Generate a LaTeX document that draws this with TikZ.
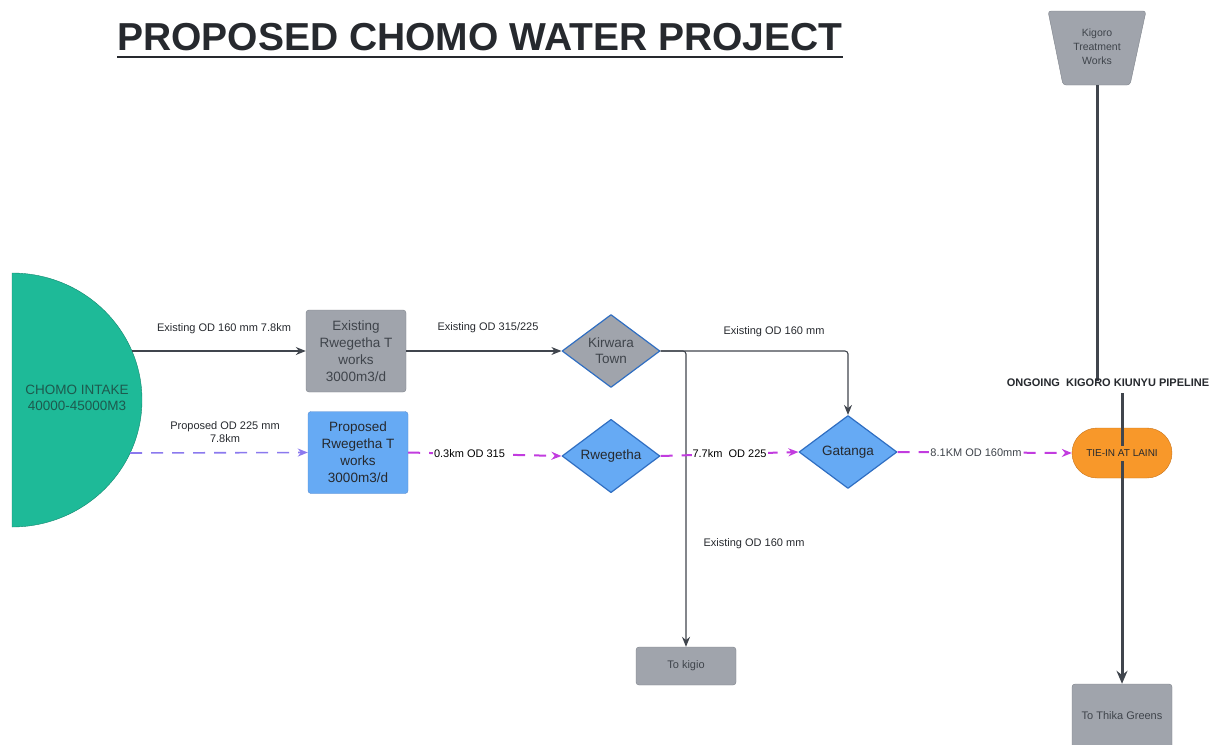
\documentclass[tikz,border=0pt]{standalone}
\usepackage{fontspec}
\setmainfont{Liberation Sans}
\usetikzlibrary{shapes.geometric,arrows.meta}
\definecolor{greyfill}{HTML}{A0A4AC}
\definecolor{greyline}{HTML}{7E838B}
\definecolor{greytxt}{HTML}{3F444B}
\definecolor{bluefill}{HTML}{66AAF4}
\definecolor{blueline}{HTML}{2F6EC2}
\definecolor{tealfill}{HTML}{1EBA98}
\definecolor{tealline}{HTML}{14876F}
\definecolor{tealtxt}{HTML}{1D5A4E}
\definecolor{orangefill}{HTML}{F8982A}
\definecolor{orangeline}{HTML}{C8731A}
\definecolor{pipecol}{HTML}{40454D}
\definecolor{newcol}{HTML}{C23CDF}
\definecolor{violet}{HTML}{8B79EE}
\definecolor{darktxt}{HTML}{26292E}
\begin{document}
\begin{tikzpicture}[line join=round, line cap=butt, >={Stealth[length=10pt,width=8pt]}, x=1pt, y=-1pt]
	\tikzset{every node/.style={font=\fontsize{11}{13}\selectfont, text=darktxt, align=center}}
	\tikzset{greybox/.style={draw=greyline, fill=greyfill, rounded corners=3pt, minimum width=100, minimum height=82, inner sep=0pt, text=greytxt, font=\fontsize{13.5}{17}\selectfont}}
	\tikzset{bluebox/.style={greybox, draw=blueline!80, fill=bluefill, text=darktxt}}
	\tikzset{decision/.style={diamond, draw=blueline, line width=1.2pt, fill=bluefill, minimum width=98, minimum height=73, inner sep=0pt, font=\fontsize{13.5}{16}\selectfont}}
	\tikzset{pipe/.style={draw=pipecol, line width=1.1pt}}
	\tikzset{newpipe/.style={draw=newcol, line width=2pt, dash pattern=on 12pt off 9pt}}
	\tikzset{mainline/.style={draw=pipecol, line width=3pt}}
	\useasboundingbox (0,0) rectangle (1214,744);
	% title
	\node[anchor=base, inner sep=0pt, font=\fontsize{39}{42}\bfseries] (title) at (480,50) {PROPOSED CHOMO WATER PROJECT};
	\draw[darktxt, line width=2.5pt] ([yshift=-7pt]title.base west)--([yshift=-7pt]title.base east);
	% intake
	\draw[draw=tealline, fill=tealfill] (12,273) arc[start angle=-90, end angle=90, x radius=130, y radius=127]--cycle;
	\node[text=tealtxt, font=\fontsize{13.5}{16}\selectfont] (intake) at (77,398) {CHOMO INTAKE\\40000-45000M3};
	\coordinate (outA) at (132,351);
	\coordinate (outB) at (130,453);
	% works and towns
	\node[greybox] (exist) at (356,351) {Existing\\Rwegetha T\\works\\3000m3/d};
	\node[bluebox] (prop) at (358,452.5) {Proposed\\Rwegetha T\\works\\3000m3/d};
	\node[decision, fill=greyfill, text=greytxt] (kirwara) at (611,351) {Kirwara\\Town};
	\node[decision] (rweg) at (611,456) {Rwegetha};
	\node[decision] (gatanga) at (848,452) {Gatanga};
	\node[greybox, minimum height=38] (kigio) at (686,666) {\fontsize{11}{13}\selectfont To kigio};
	\node[draw=orangeline, fill=orangefill, rounded corners=25pt, minimum width=100, minimum height=50, inner sep=0pt, font=\fontsize{10}{12}\selectfont] (tie) at (1122,453) {TIE-IN AT LAINI};
	\node[greybox, minimum height=64] (thika) at (1122,716) {\fontsize{11}{13}\selectfont To Thika Greens};
	\draw[draw=greyline, fill=greyfill, rounded corners=3pt] (1048,11)--(1146,11)--(1130,85)--(1063,85)--cycle;
	\node[text=greytxt, font=\fontsize{10.5}{14}\selectfont] (kigoro) at (1097,47) {Kigoro\\Treatment\\Works};
	\coordinate (kigorobase) at (1097,85);
	% existing lines
	\draw[pipe,->] (outA)--(exist.west);
	\draw[pipe,->] (exist.east)--(kirwara.west);
	\draw[pipe,->,rounded corners=3pt] (kirwara.east)-|(gatanga.north);
	\draw[pipe,->,rounded corners=3pt] (kirwara.east)-|(kigio.north);
	\node (lbla) at (224,329) {Existing OD 160 mm 7.8km};
	\node (lblb) at (488,328) {Existing OD 315/225};
	\node (lblc) at (774,332) {Existing OD 160 mm};
	\node (lbld) at (754,544) {Existing OD 160 mm};
	% proposed lines
	\draw[newpipe, draw=violet, line width=1.6pt, ->] (outB)--(prop.west);
	\node (lble) at (225,432) {Proposed OD 225 mm\\7.8km};
	\draw[newpipe,->] (prop.east)--(rweg.west) node[pos=0.4, fill=white, inner sep=1pt, text=black] (lblf) {0.3km OD 315};
	\draw[newpipe,->] (rweg.east)--(gatanga.west) node[pos=0.5, fill=white, inner sep=1pt, text=black] (lblg) {7.7km\ \ OD 225};
	\draw[newpipe,->] (gatanga.east)--(tie.west) node[pos=0.45, fill=white, inner sep=1pt, text=greytxt] (lblh) {8.1KM OD 160mm};
	% kigoro kiunyu pipeline
	\coordinate (pipeend) at (1097,381);
	\coordinate (pipestart) at (1122,393);
	\draw[mainline] (kigorobase)--(pipeend);
	\node[font=\fontsize{11}{13}\bfseries] (ongoing) at (1108,383) {ONGOING\ \ KIGORO KIUNYU PIPELINE};
	\draw[mainline] (pipestart)--([yshift=7pt]tie.center);
	\draw[mainline, -{Stealth[length=13pt,width=11pt]}] ([yshift=-8pt]tie.center)--(thika.north);
\end{tikzpicture}
\end{document}
